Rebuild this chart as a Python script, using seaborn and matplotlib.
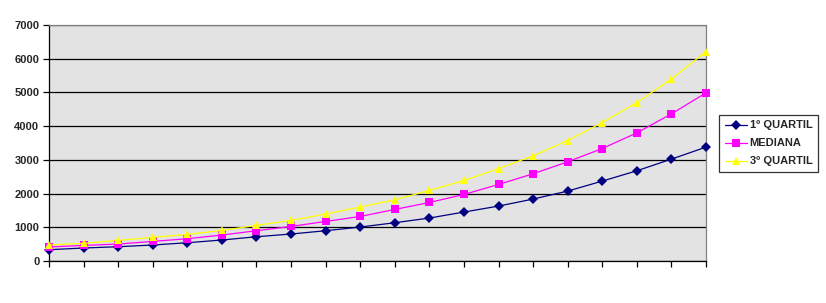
import numpy as np
import pandas as pd
import matplotlib
matplotlib.use("Agg")
import matplotlib.pyplot as plt
import seaborn as sns

# ---- data ----
periods = list(range(1, 21))
q1 = [335, 385, 424, 474, 542, 622, 720, 800, 898, 1007, 1135, 1274, 1452,
      1629, 1837, 2074, 2370, 2676, 3022, 3378]
mediana = [415, 462, 503, 581, 661, 770, 898, 1025, 1173, 1321, 1529, 1736, 1973,
           2270, 2587, 2942, 3336, 3801, 4364, 4987]
q3 = [474, 523, 610, 700, 788, 907, 1055, 1203, 1392, 1600, 1816, 2092, 2388,
      2740, 3120, 3573, 4107, 4700, 5400, 6210]
series_names = ["1º QUARTIL", "MEDIANA", "3º QUARTIL"]
y_ticks = [0, 1000, 2000, 3000, 4000, 5000, 6000, 7000]

df = pd.DataFrame({
    "periodo": periods * 3,
    "valor": q1 + mediana + q3,
    "serie": [series_names[0]] * 20 + [series_names[1]] * 20 + [series_names[2]] * 20,
})

sns.set_style("white")
plt.rcParams["font.family"] = ["Liberation Sans", "DejaVu Sans"]
plt.rcParams["font.weight"] = "bold"

fig = plt.figure(figsize=(8.26, 3.03), dpi=100)
ax = fig.add_axes([49 / 826, 1 - 261 / 303, (706 - 49) / 826, (261 - 25) / 303])
ax.set_facecolor("#e3e3e3")

palette = {series_names[0]: "#000080", series_names[1]: "#ff00ff", series_names[2]: "#ffff00"}
markers = {series_names[0]: "D", series_names[1]: "s", series_names[2]: "^"}

sns.lineplot(data=df, x="periodo", y="valor", hue="serie", style="serie",
             palette=palette, markers=markers, dashes=False, linewidth=0.9,
             markersize=5.5, markeredgewidth=0, ax=ax, zorder=3, clip_on=False)

ax.set_xlim(1, 20)
ax.set_ylim(0, 7000)
ax.set_xticks(periods)
ax.set_xticklabels([])
ax.set_yticks(y_ticks)
ax.set_yticklabels([str(t) for t in y_ticks], fontsize=8, fontweight="bold")
ax.yaxis.grid(True, color="black", linewidth=0.9)
ax.set_axisbelow(True)
ax.tick_params(axis="both", direction="out", length=4, width=0.9, color="black",
               bottom=True, left=True, pad=3)
ax.set_xlabel("")
ax.set_ylabel("")
for side in ["left", "bottom"]:
    ax.spines[side].set_color("black")
    ax.spines[side].set_linewidth(0.9)
for side in ["top", "right"]:
    ax.spines[side].set_color("#808080")
    ax.spines[side].set_linewidth(0.9)

leg = ax.legend(loc="upper left", bbox_to_anchor=(1.0198, 0.619), borderaxespad=0,
                frameon=True, fancybox=False, edgecolor="black", fontsize=8,
                handlelength=2.0, handletextpad=0.25, labelspacing=0.72,
                borderpad=0.5, title=None)
leg.get_frame().set_linewidth(0.9)
for t in leg.get_texts():
    t.set_fontweight("bold")

fig.savefig("out.png", dpi=100, facecolor="white")
